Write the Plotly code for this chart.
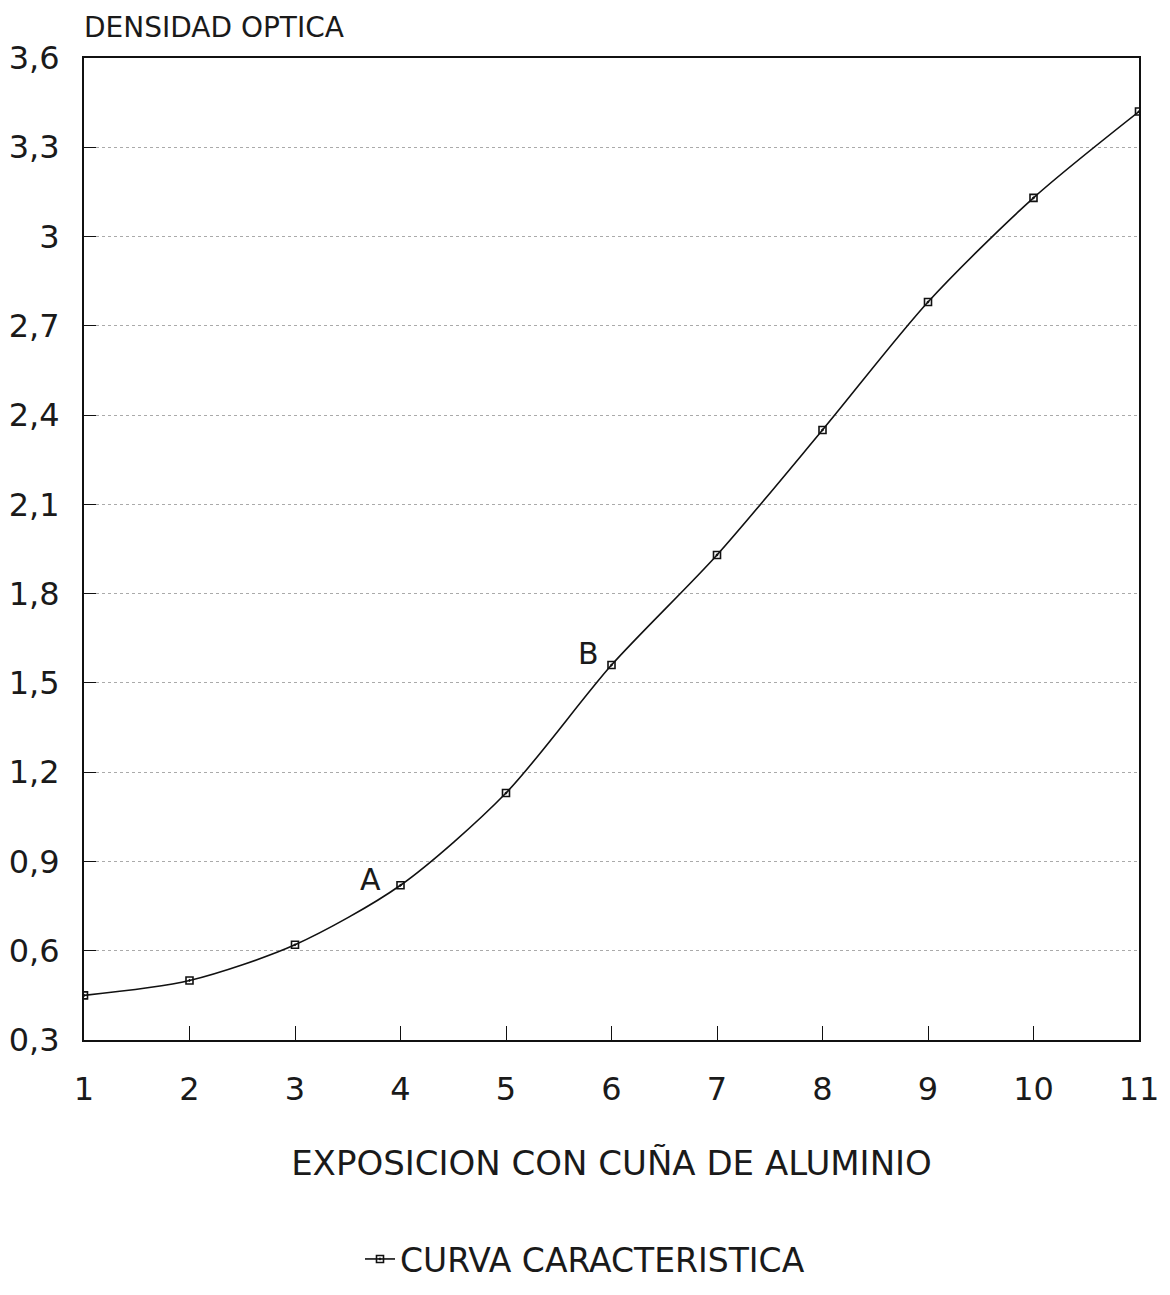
import plotly.graph_objects as go

exposure = [1, 2, 3, 4, 5, 6, 7, 8, 9, 10, 11]
density = [0.45, 0.50, 0.62, 0.82, 1.13, 1.56, 1.93, 2.35, 2.78, 3.13, 3.42]
y_ticks = [0.3, 0.6, 0.9, 1.2, 1.5, 1.8, 2.1, 2.4, 2.7, 3.0, 3.3, 3.6]
y_labels = ["0,3", "0,6", "0,9", "1,2", "1,5", "1,8", "2,1", "2,4", "2,7", "3", "3,3", "3,6"]
x_ticks = [1, 2, 3, 4, 5, 6, 7, 8, 9, 10, 11]
labels = [("A", 3.72, 0.84), ("B", 5.78, 1.60)]

FONT = "DejaVu Sans"
TXT = "#1a1a1a"
W, H = 1154, 1279
fig = go.Figure()
fig.add_trace(go.Scatter(
    x=exposure, y=density, mode="lines+markers",
    name="CURVA CARACTERISTICA",
    line=dict(color="#111", width=1.6, shape="spline", smoothing=0.8),
    marker=dict(symbol="square-open-dot", size=7, color="#111", line=dict(width=1.6, color="#111")),
))
for t, x, y in labels:
    fig.add_annotation(x=x, y=y, text=t, showarrow=False,
                       font=dict(family=FONT, size=30, color=TXT))

fig.add_annotation(xref="paper", yref="paper", x=0, y=1, yshift=12, xshift=-2, xanchor="left",
                   yanchor="bottom", text="DENSIDAD OPTICA", showarrow=False,
                   font=dict(family=FONT, size=28, color=TXT))

fig.update_layout(
    width=W, height=H,
    paper_bgcolor="white", plot_bgcolor="white",
    margin=dict(l=76, r=23, t=50, b=247),
    font=dict(family=FONT, size=32, color=TXT),
    showlegend=True,
    legend=dict(orientation="h", x=0.5, xanchor="center", xref="container", yref="container",
                y=0, yanchor="bottom",
                font=dict(family=FONT, size=33, color=TXT)),
    xaxis=dict(range=[1, 11], tickvals=x_ticks, ticks="inside", ticklen=14, tickcolor="#111",
               showline=True, linecolor="#111", linewidth=2, mirror=True, showgrid=False,
               zeroline=False, ticklabelstandoff=20, automargin=False,
               tickfont=dict(family=FONT, size=32, color=TXT),
               title=dict(text="EXPOSICION CON CUÑA DE ALUMINIO", standoff=44,
                          font=dict(family=FONT, size=34, color=TXT))),
    yaxis=dict(range=[0.3, 3.6], tickvals=y_ticks, ticktext=y_labels, ticks="inside",
               ticklen=12, tickcolor="#111", showline=True, linecolor="#111", linewidth=2,
               mirror=True, showgrid=True, gridcolor="#aaa", griddash="dot", gridwidth=1,
               zeroline=False, ticklabelstandoff=16, automargin=False,
               tickfont=dict(family=FONT, size=32, color=TXT)),
)
fig.write_html("out.html")
